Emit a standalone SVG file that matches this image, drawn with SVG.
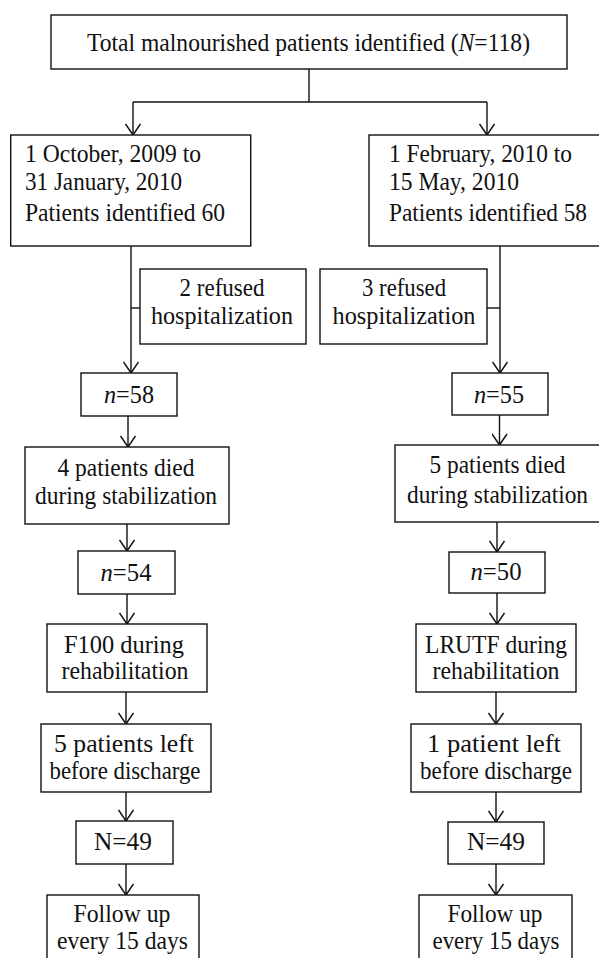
<svg xmlns="http://www.w3.org/2000/svg" width="599" height="958" viewBox="0 0 599 958">
<style>
rect.b{fill:#fff;stroke:#111;stroke-width:1.4}
text{font-family:"Liberation Serif","Times New Roman",Times,serif;font-size:26px;fill:#111}
text.c{text-anchor:middle}
.ln{fill:none;stroke:#111;stroke-width:1.4}
</style>
<defs>
<marker id="ah" viewBox="-12 -8 13 16" markerWidth="13" markerHeight="16" refX="0" refY="0" orient="auto" markerUnits="userSpaceOnUse">
<path d="M-11,-7.5 L0,0 L-11,7.5" fill="none" stroke="#111" stroke-width="1.5"/>
</marker>
</defs>
<rect width="599" height="958" fill="#fff"/>
<g id="connectors" class="ln">
<path d="M309,69 V102 M133,102 H487"/>
<path d="M133,102 V135" marker-end="url(#ah)"/>
<path d="M487,102 V135" marker-end="url(#ah)"/>
<path d="M131,246 V373" marker-end="url(#ah)"/>
<path d="M131,308 H140"/>
<path d="M500,246 V373" marker-end="url(#ah)"/>
<path d="M487,308 H500"/>
<path d="M128,416 V447" marker-end="url(#ah)"/>
<path d="M127,524 V551" marker-end="url(#ah)"/>
<path d="M127,594 V624" marker-end="url(#ah)"/>
<path d="M126,692 V724" marker-end="url(#ah)"/>
<path d="M126,792 V821" marker-end="url(#ah)"/>
<path d="M126,864 V895" marker-end="url(#ah)"/>
<path d="M499.5,415 V445" marker-end="url(#ah)"/>
<path d="M497,522 V552" marker-end="url(#ah)"/>
<path d="M497,593 V624" marker-end="url(#ah)"/>
<path d="M496,692 V724" marker-end="url(#ah)"/>
<path d="M496,792 V822" marker-end="url(#ah)"/>
<path d="M496,864 V895" marker-end="url(#ah)"/>
</g>
<g id="total">
<rect class="b" x="51" y="15" width="516" height="54"/>
<text class="c" x="308.5" y="51" textLength="443" lengthAdjust="spacingAndGlyphs">Total malnourished patients identified (<tspan font-style="italic">N</tspan>=118)</text>
</g>
<g id="period1">
<rect class="b" x="10.7" y="135" width="240" height="111"/>
<text x="25" y="162" textLength="176" lengthAdjust="spacingAndGlyphs">1 October, 2009 to</text>
<text x="25" y="190" textLength="157" lengthAdjust="spacingAndGlyphs">31 January, 2010</text>
<text x="25" y="221" textLength="200" lengthAdjust="spacingAndGlyphs">Patients identified 60</text>
</g>
<g id="period2">
<rect class="b" x="369" y="135" width="234" height="111"/>
<text x="389" y="162" textLength="183" lengthAdjust="spacingAndGlyphs">1 February, 2010 to</text>
<text x="389" y="190" textLength="130" lengthAdjust="spacingAndGlyphs">15 May, 2010</text>
<text x="389" y="221" textLength="198" lengthAdjust="spacingAndGlyphs">Patients identified 58</text>
</g>
<g id="refused1">
<rect class="b" x="140" y="269" width="166" height="75"/>
<text class="c" x="222" y="296" textLength="85" lengthAdjust="spacingAndGlyphs">2 refused</text>
<text class="c" x="222" y="324" textLength="142" lengthAdjust="spacingAndGlyphs">hospitalization</text>
</g>
<g id="refused2">
<rect class="b" x="320" y="269" width="167" height="75"/>
<text class="c" x="404" y="296" textLength="84" lengthAdjust="spacingAndGlyphs">3 refused</text>
<text class="c" x="404" y="324" textLength="143" lengthAdjust="spacingAndGlyphs">hospitalization</text>
</g>
<g id="n58">
<rect class="b" x="81" y="373" width="96" height="43"/>
<text class="c" x="129" y="403" textLength="50" lengthAdjust="spacingAndGlyphs"><tspan font-style="italic">n</tspan>=58</text>
</g>
<g id="n55">
<rect class="b" x="452" y="373" width="96" height="42"/>
<text class="c" x="499" y="403" textLength="50" lengthAdjust="spacingAndGlyphs"><tspan font-style="italic">n</tspan>=55</text>
</g>
<g id="died1">
<rect class="b" x="25" y="447" width="204" height="77"/>
<text class="c" x="126" y="476" textLength="137" lengthAdjust="spacingAndGlyphs">4 patients died</text>
<text class="c" x="126" y="504" textLength="182" lengthAdjust="spacingAndGlyphs">during stabilization</text>
</g>
<g id="died2">
<rect class="b" x="395" y="445" width="210" height="77"/>
<text class="c" x="497.5" y="473" textLength="136" lengthAdjust="spacingAndGlyphs">5 patients died</text>
<text class="c" x="497.5" y="503" textLength="181" lengthAdjust="spacingAndGlyphs">during stabilization</text>
</g>
<g id="n54">
<rect class="b" x="78" y="551" width="97" height="43"/>
<text class="c" x="126" y="581" textLength="51" lengthAdjust="spacingAndGlyphs"><tspan font-style="italic">n</tspan>=54</text>
</g>
<g id="n50">
<rect class="b" x="449" y="552" width="96" height="41"/>
<text class="c" x="496" y="580" textLength="51" lengthAdjust="spacingAndGlyphs"><tspan font-style="italic">n</tspan>=50</text>
</g>
<g id="f100">
<rect class="b" x="47" y="624" width="160" height="68"/>
<text class="c" x="124" y="653" textLength="120" lengthAdjust="spacingAndGlyphs">F100 during</text>
<text class="c" x="125" y="679" textLength="127" lengthAdjust="spacingAndGlyphs">rehabilitation</text>
</g>
<g id="lrutf">
<rect class="b" x="416" y="624" width="160" height="68"/>
<text class="c" x="496" y="653" textLength="142" lengthAdjust="spacingAndGlyphs">LRUTF during</text>
<text class="c" x="496" y="679" textLength="127" lengthAdjust="spacingAndGlyphs">rehabilitation</text>
</g>
<g id="left1">
<rect class="b" x="41" y="724" width="170" height="68"/>
<text class="c" x="124" y="752" textLength="140" lengthAdjust="spacingAndGlyphs">5 patients left</text>
<text class="c" x="125" y="779" textLength="151" lengthAdjust="spacingAndGlyphs">before discharge</text>
</g>
<g id="left2">
<rect class="b" x="411" y="724" width="170" height="68"/>
<text class="c" x="494" y="752" textLength="134" lengthAdjust="spacingAndGlyphs">1 patient left</text>
<text class="c" x="496" y="779" textLength="152" lengthAdjust="spacingAndGlyphs">before discharge</text>
</g>
<g id="n49a">
<rect class="b" x="76" y="821" width="97" height="43"/>
<text class="c" x="123" y="850" textLength="58" lengthAdjust="spacingAndGlyphs">N=49</text>
</g>
<g id="n49b">
<rect class="b" x="448" y="822" width="96" height="42"/>
<text class="c" x="496" y="850" textLength="58" lengthAdjust="spacingAndGlyphs">N=49</text>
</g>
<g id="follow1">
<rect class="b" x="47" y="895" width="152" height="70"/>
<text class="c" x="122" y="922" textLength="97" lengthAdjust="spacingAndGlyphs">Follow up</text>
<text class="c" x="122.5" y="949" textLength="131" lengthAdjust="spacingAndGlyphs">every 15 days</text>
</g>
<g id="follow2">
<rect class="b" x="419" y="895" width="153" height="70"/>
<text class="c" x="495" y="922" textLength="95" lengthAdjust="spacingAndGlyphs">Follow up</text>
<text class="c" x="496" y="949" textLength="127" lengthAdjust="spacingAndGlyphs">every 15 days</text>
</g>
</svg>
